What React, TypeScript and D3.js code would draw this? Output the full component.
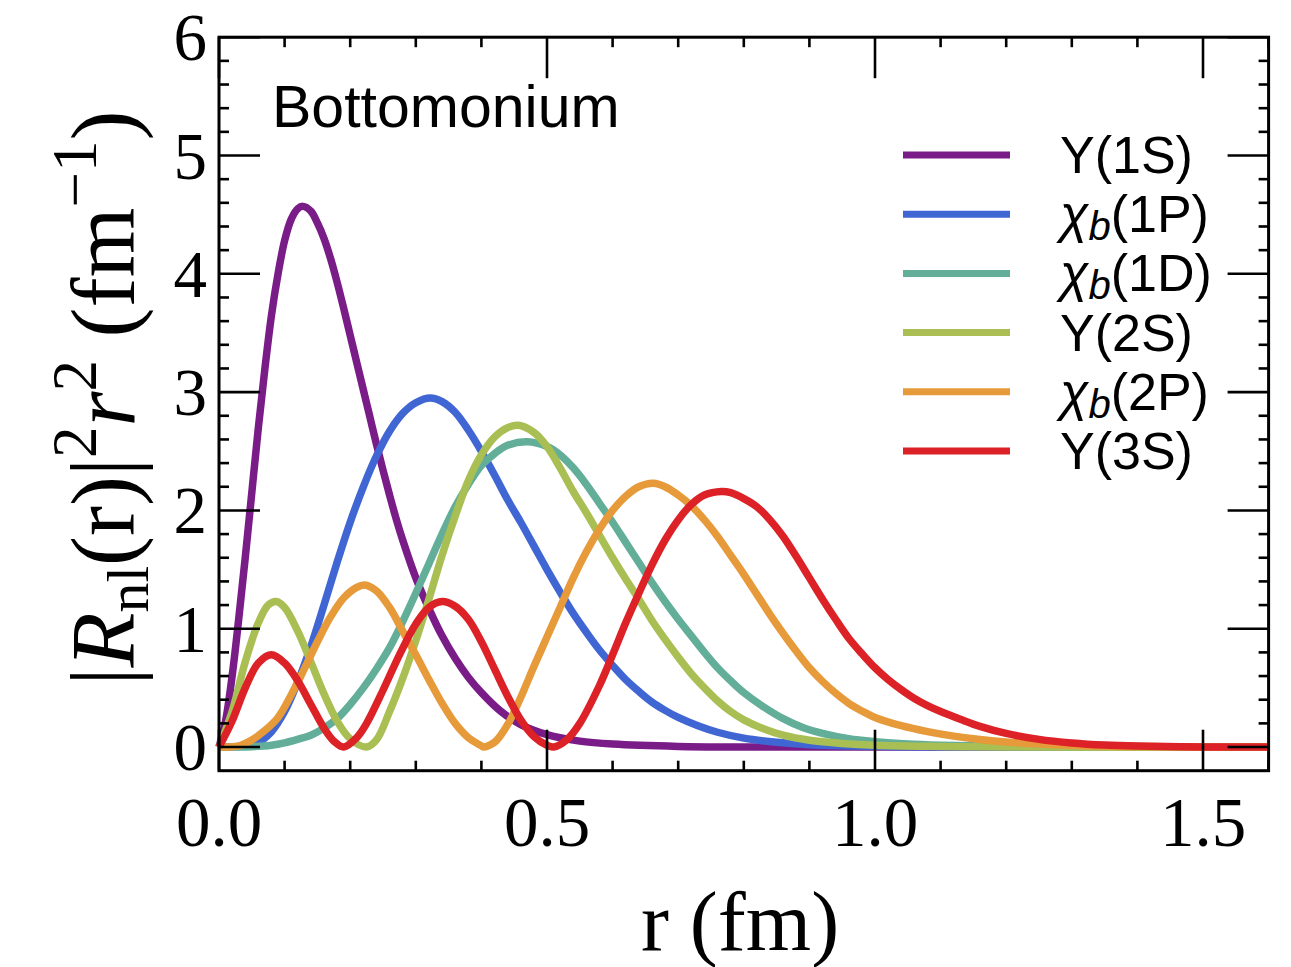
import React from "react";
import * as d3 from "d3";

// ---- data ----
const seriesNames = ["Υ(1S)", "χb(1P)", "χb(1D)", "Υ(2S)", "χb(2P)", "Υ(3S)"];
const seriesColors = ["#7a1c87", "#4066d3", "#62ae98", "#a9bf54", "#e69a3a", "#dc2127"];

const r1S = [0, 0.01, 0.02, 0.03, 0.04, 0.05, 0.06, 0.07, 0.08, 0.09, 0.10, 0.11, 0.12, 0.128, 0.14, 0.15, 0.16, 0.17, 0.18, 0.19, 0.20, 0.21, 0.22, 0.23, 0.24, 0.25, 0.26, 0.27, 0.28, 0.30, 0.32, 0.34, 0.36, 0.38, 0.40, 0.43, 0.46, 0.50, 0.55, 0.60, 0.70, 0.80, 1.0, 1.6];
const v1S = [0, 0.22, 0.6, 1.08, 1.6, 2.15, 2.7, 3.2, 3.65, 4.0, 4.28, 4.46, 4.55, 4.57, 4.53, 4.43, 4.3, 4.13, 3.93, 3.71, 3.48, 3.25, 3.02, 2.79, 2.56, 2.34, 2.13, 1.93, 1.75, 1.43, 1.17, 0.94, 0.75, 0.59, 0.46, 0.3, 0.19, 0.105, 0.05, 0.025, 0.005, 0, 0, 0];

const r1P = [0, 0.04, 0.06, 0.08, 0.10, 0.12, 0.14, 0.16, 0.18, 0.20, 0.22, 0.24, 0.26, 0.28, 0.30, 0.322, 0.34, 0.36, 0.38, 0.40, 0.42, 0.44, 0.46, 0.48, 0.50, 0.52, 0.54, 0.56, 0.58, 0.60, 0.62, 0.64, 0.66, 0.68, 0.70, 0.73, 0.76, 0.80, 0.85, 0.90, 1.0, 1.1, 1.6];
const v1P = [0, 0.01, 0.04, 0.13, 0.3, 0.55, 0.85, 1.2, 1.56, 1.9, 2.2, 2.46, 2.67, 2.82, 2.91, 2.95, 2.92, 2.83, 2.68, 2.5, 2.3, 2.09, 1.9, 1.7, 1.5, 1.31, 1.13, 0.97, 0.82, 0.69, 0.57, 0.47, 0.38, 0.31, 0.25, 0.18, 0.125, 0.075, 0.04, 0.02, 0.006, 0, 0];

const r1D = [0, 0.05, 0.08, 0.10, 0.12, 0.14, 0.16, 0.18, 0.20, 0.22, 0.24, 0.26, 0.28, 0.30, 0.32, 0.34, 0.36, 0.38, 0.40, 0.42, 0.44, 0.47, 0.50, 0.52, 0.54, 0.56, 0.58, 0.60, 0.62, 0.64, 0.66, 0.68, 0.70, 0.72, 0.74, 0.76, 0.78, 0.80, 0.83, 0.86, 0.89, 0.92, 0.96, 1.0, 1.05, 1.1, 1.2, 1.3, 1.6];
const v1D = [0, 0.003, 0.015, 0.035, 0.065, 0.1, 0.16, 0.24, 0.36, 0.5, 0.66, 0.84, 1.06, 1.3, 1.55, 1.8, 2.03, 2.22, 2.38, 2.48, 2.55, 2.58, 2.54, 2.47, 2.36, 2.22, 2.06, 1.9, 1.73, 1.56, 1.39, 1.23, 1.08, 0.94, 0.8, 0.67, 0.56, 0.46, 0.34, 0.24, 0.165, 0.115, 0.07, 0.045, 0.025, 0.015, 0.005, 0, 0];

const r2S = [0, 0.02, 0.04, 0.06, 0.075, 0.087, 0.10, 0.12, 0.14, 0.16, 0.18, 0.20, 0.225, 0.24, 0.26, 0.28, 0.30, 0.32, 0.34, 0.36, 0.38, 0.40, 0.42, 0.44, 0.456, 0.48, 0.50, 0.52, 0.54, 0.56, 0.58, 0.60, 0.62, 0.64, 0.66, 0.68, 0.70, 0.72, 0.74, 0.76, 0.78, 0.80, 0.83, 0.86, 0.90, 0.95, 1.0, 1.1, 1.2, 1.6];
const v2S = [0, 0.3, 0.72, 1.05, 1.2, 1.23, 1.18, 0.98, 0.72, 0.45, 0.22, 0.07, 0, 0.06, 0.3, 0.58, 0.9, 1.25, 1.62, 1.95, 2.25, 2.47, 2.62, 2.7, 2.72, 2.66, 2.54, 2.36, 2.16, 1.98, 1.79, 1.6, 1.42, 1.25, 1.07, 0.91, 0.76, 0.62, 0.5, 0.39, 0.3, 0.23, 0.155, 0.1, 0.057, 0.03, 0.015, 0.005, 0, 0];

const r2P = [0, 0.03, 0.05, 0.07, 0.09, 0.11, 0.13, 0.15, 0.17, 0.19, 0.21, 0.222, 0.24, 0.26, 0.28, 0.30, 0.32, 0.34, 0.36, 0.38, 0.40, 0.403, 0.42, 0.44, 0.46, 0.48, 0.50, 0.52, 0.54, 0.56, 0.58, 0.60, 0.62, 0.64, 0.662, 0.68, 0.70, 0.72, 0.74, 0.76, 0.78, 0.80, 0.82, 0.84, 0.86, 0.88, 0.90, 0.92, 0.94, 0.96, 0.98, 1.0, 1.04, 1.08, 1.12, 1.16, 1.2, 1.3, 1.4, 1.6];
const v2P = [0, 0.01, 0.06, 0.14, 0.25, 0.44, 0.66, 0.89, 1.1, 1.26, 1.35, 1.37, 1.32, 1.18, 0.98, 0.78, 0.57, 0.37, 0.2, 0.08, 0.01, 0, 0.04, 0.19, 0.42, 0.68, 0.93, 1.18, 1.43, 1.65, 1.84, 2.0, 2.12, 2.2, 2.23, 2.2, 2.13, 2.04, 1.92, 1.78, 1.62, 1.46, 1.29, 1.12, 0.96, 0.81, 0.67, 0.555, 0.455, 0.37, 0.305, 0.25, 0.18, 0.13, 0.092, 0.063, 0.042, 0.015, 0.004, 0];

const r3S = [0, 0.02, 0.04, 0.06, 0.08, 0.10, 0.12, 0.14, 0.16, 0.175, 0.19, 0.21, 0.225, 0.25, 0.276, 0.30, 0.32, 0.34, 0.36, 0.38, 0.40, 0.42, 0.44, 0.46, 0.48, 0.50, 0.51, 0.53, 0.55, 0.58, 0.60, 0.62, 0.64, 0.66, 0.68, 0.70, 0.72, 0.74, 0.766, 0.78, 0.80, 0.82, 0.84, 0.86, 0.88, 0.90, 0.92, 0.94, 0.96, 0.98, 1.00, 1.02, 1.04, 1.06, 1.08, 1.10, 1.13, 1.16, 1.2, 1.25, 1.3, 1.35, 1.4, 1.5, 1.6];
const v3S = [0, 0.22, 0.5, 0.71, 0.78, 0.71, 0.56, 0.36, 0.16, 0.05, 0, 0.08, 0.2, 0.48, 0.79, 1.04, 1.18, 1.23, 1.19, 1.08, 0.89, 0.66, 0.43, 0.23, 0.09, 0.015, 0, 0.06, 0.2, 0.52, 0.78, 1.05, 1.3, 1.54, 1.75, 1.92, 2.05, 2.13, 2.16, 2.15, 2.1, 2.03, 1.92, 1.78, 1.61, 1.43, 1.25, 1.08, 0.92, 0.79, 0.67, 0.57, 0.485, 0.41, 0.35, 0.3, 0.235, 0.175, 0.115, 0.065, 0.035, 0.017, 0.008, 0.001, 0];

const seriesR = [r1S, r1P, r1D, r2S, r2P, r3S];
const seriesV = [v1S, v1P, v1D, v2S, v2P, v3S];

const xTickLabels = ["0.0", "0.5", "1.0", "1.5"];
const xMajorTicks = [0, 0.5, 1.0, 1.5];
const yMajorTicks = [0, 1, 2, 3, 4, 5, 6];
const yTickLabels = ["0", "1", "2", "3", "4", "5", "6"];

const W = 1291;
const H = 967;
const left = 219, right = 1268.6, top = 37.2, bottom = 770.7;

const x = d3.scaleLinear().domain([0, 1.6]).range([left, right]);
const y = d3.scaleLinear().domain([-0.2, 6]).range([bottom, top]);

const serif = "'Liberation Serif', 'Times New Roman', serif";
const sans = "'Liberation Sans', Arial, sans-serif";

function LegendLabel({ name, lx, ly }: { name: string; lx: number; ly: number }) {
  if (name.startsWith("χb")) {
    const rest = name.slice(2);
    return (
      <text x={lx} y={ly} fontFamily={sans} fontSize={52} fill="#000">
        <tspan fontStyle="italic">χ</tspan>
        <tspan fontStyle="italic" fontSize={40} dy={8}>b</tspan>
        <tspan dy={-8}>{rest}</tspan>
      </text>
    );
  }
  return (
    <text x={lx} y={ly} fontFamily={sans} fontSize={52} fill="#000">{name}</text>
  );
}

export default function App() {
  const line = d3
    .line<[number, number]>()
    .x((d) => x(d[0]))
    .y((d) => y(d[1]))
    .curve(d3.curveCatmullRom.alpha(0.5));

  const xMinor = d3.range(0, 1.6001, 0.1).map((v) => +v.toFixed(2)).filter((v) => !xMajorTicks.some((m) => Math.abs(m - v) < 1e-6));
  const yMinor = d3.range(0, 6.0001, 0.2).map((v) => +v.toFixed(2)).filter((v) => !yMajorTicks.some((m) => Math.abs(m - v) < 1e-6));

  const majorLen = 41;
  const minorLen = 10;

  return (
    <svg width={W} height={H} style={{ display: "block", position: "absolute", left: 0, top: 0 }}>
      <rect x={0} y={0} width={W} height={H} fill="#fff" />
      {/* curves */}
      {seriesR.map((rs, i) => {
        const pts: [number, number][] = rs.map((r, k) => [r, seriesV[i][k]]);
        return (
          <path key={i} d={line(pts) || ""} fill="none" stroke={seriesColors[i]} strokeWidth={7.5} strokeLinejoin="round" />
        );
      })}

      {/* frame */}
      <rect x={left} y={top} width={right - left} height={bottom - top} fill="none" stroke="#000" strokeWidth={3} />

      {/* x ticks bottom & top */}
      {xMajorTicks.map((t) => (
        <g key={"xM" + t}>
          <line x1={x(t)} x2={x(t)} y1={bottom} y2={bottom - majorLen} stroke="#000" strokeWidth={2.6} />
          <line x1={x(t)} x2={x(t)} y1={top} y2={top + majorLen} stroke="#000" strokeWidth={2.6} />
        </g>
      ))}
      {xMinor.map((t) => (
        <g key={"xm" + t}>
          <line x1={x(t)} x2={x(t)} y1={bottom} y2={bottom - minorLen} stroke="#000" strokeWidth={2.6} />
          <line x1={x(t)} x2={x(t)} y1={top} y2={top + minorLen} stroke="#000" strokeWidth={2.6} />
        </g>
      ))}
      {/* y ticks left & right */}
      {yMajorTicks.map((t) => (
        <g key={"yM" + t}>
          <line x1={left} x2={left + majorLen} y1={y(t)} y2={y(t)} stroke="#000" strokeWidth={2.6} />
          <line x1={right} x2={right - majorLen} y1={y(t)} y2={y(t)} stroke="#000" strokeWidth={2.6} />
        </g>
      ))}
      {yMinor.map((t) => (
        <g key={"ym" + t}>
          <line x1={left} x2={left + minorLen} y1={y(t)} y2={y(t)} stroke="#000" strokeWidth={2.6} />
          <line x1={right} x2={right - minorLen} y1={y(t)} y2={y(t)} stroke="#000" strokeWidth={2.6} />
        </g>
      ))}

      {/* tick labels */}
      {xMajorTicks.map((t, i) => (
        <text key={"xl" + t} x={x(t)} y={846} textAnchor="middle" fontFamily={serif} fontSize={69} fill="#000">
          {xTickLabels[i]}
        </text>
      ))}
      {yMajorTicks.map((t, i) => (
        <text key={"yl" + t} x={207} y={y(t) + 23} textAnchor="end" fontFamily={serif} fontSize={67} fill="#000">
          {yTickLabels[i]}
        </text>
      ))}

      {/* axis titles */}
      <text x={740} y={950} textAnchor="middle" fontFamily={serif} fontSize={84} fill="#000">
        r (fm)
      </text>
      <text transform="translate(134,398) rotate(-90)" textAnchor="middle" fontFamily={serif} fontSize={90} fill="#000">
        |<tspan fontStyle="italic">R</tspan>
        <tspan fontSize={60} dy={14}>nl</tspan>
        <tspan dy={-14}>(r)|</tspan>
        <tspan fontSize={63} dy={-38}>2</tspan>
        <tspan dy={38} fontStyle="italic">r</tspan>
        <tspan fontSize={63} dy={-38}>2</tspan>
        <tspan dy={38}>{"\u00a0(fm"}</tspan>
        <tspan fontSize={63} dy={-38}>−1</tspan>
        <tspan dy={38}>)</tspan>
      </text>

      {/* annotation */}
      <text x={272} y={127} fontFamily={sans} fontSize={59} fill="#000">Bottomonium</text>

      {/* legend */}
      {seriesNames.map((n, i) => {
        const ly = 155 + i * 59.2;
        return (
          <g key={"lg" + i}>
            <line x1={903} x2={1010} y1={ly} y2={ly} stroke={seriesColors[i]} strokeWidth={7} />
            <LegendLabel name={n} lx={1060} ly={ly + 18} />
          </g>
        );
      })}
    </svg>
  );
}
